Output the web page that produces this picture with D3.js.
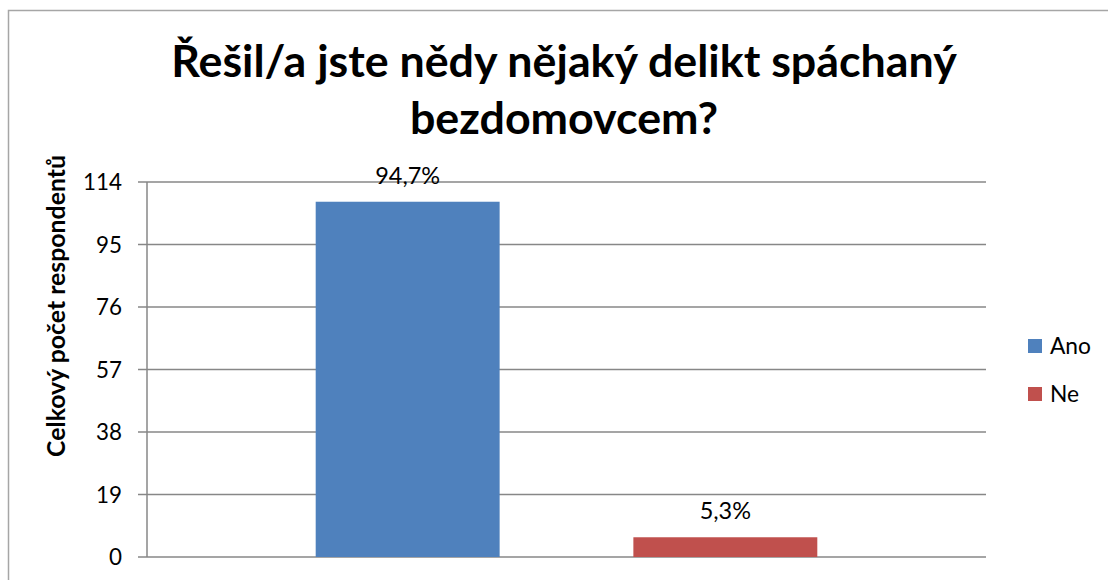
<!DOCTYPE html>
<html>
<head>
<meta charset="utf-8">
<script src="https://cdn.jsdelivr.net/npm/d3@7"></script>
<style>
  body { margin: 0; background: #fff; }
  svg { display: block; }
  text { font-family: Lato, "Open Sans", sans-serif; fill: #000; }
</style>
</head>
<body>
<svg id="chart" width="1108" height="580"></svg>
<script>
// ------------ DATA -----------------

const categories = ["Ano", "Ne"];
const counts = [108, 6];
const percentLabels = ["94,7%", "5,3%"];
const colors = ["#4f81bd", "#c0504d"];
const yTicks = [0, 19, 38, 57, 76, 95, 114];
const titleLines = ["Řešil/a jste nědy nějaký delikt spáchaný", "bezdomovcem?"];
const yTitle = "Celkový počet respondentů";

// ------------ HELPERS -----------------

// scale a text's font size so that it is as wide as in the original
function fitWidth(node, width, baseSize) {
  const w = node.getComputedTextLength();
  if (w > 0) d3.select(node).style("font-size", (baseSize * width / w) + "px");
}

// ------------ LAYOUT -----------------

const svg = d3.select("#chart");
const plot = { left: 147, right: 986, top: 182, bottom: 557 };

// chart border (right/bottom run off the picture)
svg.append("rect")
  .attr("x", 8.5).attr("y", 10.5)
  .attr("width", 1120).attr("height", 600)
  .attr("fill", "none")
  .attr("stroke", "#a6a6a6")
  .attr("stroke-width", 1.5);

const x = d3.scaleBand()
  .domain(categories)
  .range([plot.left, plot.right])
  .paddingInner(0.421)
  .paddingOuter(0.531);

const y = d3.scaleLinear()
  .domain([0, 114])
  .range([plot.bottom, plot.top]);

// ------------ GRID + AXIS -----------------

svg.append("g")
  .selectAll("line")
  .data(yTicks)
  .join("line")
  .attr("x1", plot.left - 9)
  .attr("x2", plot.right)
  .attr("y1", d => y(d))
  .attr("y2", d => y(d))
  .attr("stroke", "#878787")
  .attr("stroke-width", 1.5);

svg.append("line")
  .attr("x1", plot.left).attr("x2", plot.left)
  .attr("y1", plot.top).attr("y2", plot.bottom)
  .attr("stroke", "#878787")
  .attr("stroke-width", 1.5);

const tickLabels = svg.append("g")
  .selectAll("text")
  .data(yTicks)
  .join("text")
  .attr("x", 122)
  .attr("y", d => y(d))
  .attr("dy", "0.36em")
  .attr("text-anchor", "end")
  .style("font-size", "20px")
  .text(d => d);
fitWidth(tickLabels.nodes()[6], 39, 20);
tickLabels.style("font-size", tickLabels.nodes()[6].style.fontSize);

const yt = svg.append("text")
  .attr("transform", `translate(65,306) rotate(-90)`)
  .attr("text-anchor", "middle")
  .style("font-size", "18px")
  .style("font-weight", "bold")
  .text(yTitle);
fitWidth(yt.node(), 302, 18);

// ------------ BARS -----------------

svg.append("g")
  .selectAll("rect")
  .data(categories)
  .join("rect")
  .attr("x", d => x(d))
  .attr("width", x.bandwidth())
  .attr("y", (d, i) => y(counts[i]))
  .attr("height", (d, i) => y(0) - y(counts[i]))
  .attr("fill", (d, i) => colors[i]);

const valueLabels = svg.append("g")
  .selectAll("text")
  .data(categories)
  .join("text")
  .attr("x", d => x(d) + x.bandwidth() / 2)
  .attr("y", (d, i) => y(counts[i]) - 18)
  .attr("text-anchor", "middle")
  .style("font-size", "20px")
  .text((d, i) => percentLabels[i]);
fitWidth(valueLabels.nodes()[0], 65, 20);
valueLabels.style("font-size", valueLabels.nodes()[0].style.fontSize);

// ------------ TITLE -----------------

const title = svg.append("g");
title.selectAll("text")
  .data(titleLines)
  .join("text")
  .attr("x", 564)
  .attr("y", (d, i) => 77 + i * 57)
  .attr("text-anchor", "middle")
  .style("font-size", "40px")
  .style("font-weight", "bold")
  .text(d => d);

const firstLine = title.select("text").node();
fitWidth(firstLine, 786, 40);
title.selectAll("text").style("font-size", firstLine.style.fontSize);

// ------------ LEGEND -----------------

const legend = svg.append("g")
  .selectAll("g")
  .data(categories)
  .join("g")
  .attr("transform", (d, i) => `translate(1028,${339 + i * 48})`);

legend.append("rect")
  .attr("width", 14).attr("height", 14)
  .attr("fill", (d, i) => colors[i]);

const legendText = legend.append("text")
  .attr("x", 22)
  .attr("y", 7)
  .attr("dy", "0.36em")
  .style("font-size", "20px")
  .text(d => d);
fitWidth(legendText.nodes()[0], 41, 20);
legendText.style("font-size", legendText.nodes()[0].style.fontSize);
</script>
</body>
</html>
